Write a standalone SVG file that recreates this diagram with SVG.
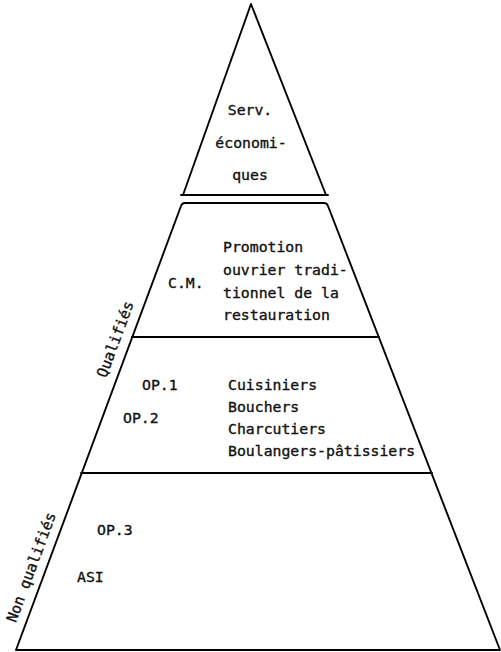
<svg xmlns="http://www.w3.org/2000/svg" width="501" height="652" viewBox="0 0 501 652">
  <style>
    .edge { fill: none; stroke: #000; stroke-width: 1.9; stroke-linejoin: round; stroke-linecap: round; }
    .lbl { font-family: "DejaVu Sans Mono", "Liberation Mono", monospace; font-size: 14.8px; fill: #111; stroke: #111; stroke-width: 0.35px; }
    .mid { text-anchor: middle; }
  </style>
  <rect width="501" height="652" fill="#fff"/>

  <!-- apex: economic services -->
  <g id="tier-services">
    <path class="edge" d="M183,195 L251,4 L326,195"/>
    <path class="edge" d="M181,195 L328,195"/>
    <text class="lbl mid" x="250" y="115">Serv.</text>
    <text class="lbl mid" x="251" y="148">économi-</text>
    <text class="lbl mid" x="250" y="180">ques</text>
  </g>

  <!-- outline of the lower pyramid -->
  <g id="pyramid-body">
    <path class="edge" d="M181,206 Q182,203 185,203 L324,203 Q327,203 328,206 L500,650 L16,650 Z"/>
  </g>

  <!-- master craftsmen tier -->
  <g id="tier-cm">
    <text class="lbl" x="168" y="288">C.M.</text>
    <text class="lbl" x="223" y="252">Promotion</text>
    <text class="lbl" x="223" y="275">ouvrier tradi-</text>
    <text class="lbl" x="223" y="298">tionnel de la</text>
    <text class="lbl" x="223" y="320">restauration</text>
  </g>

  <!-- skilled workers tier -->
  <g id="tier-op">
    <line class="edge" x1="132" y1="337" x2="379" y2="337"/>
    <text class="lbl" x="142" y="390">OP.1</text>
    <text class="lbl" x="123" y="423">OP.2</text>
    <text class="lbl" x="228" y="390">Cuisiniers</text>
    <text class="lbl" x="228" y="412">Bouchers</text>
    <text class="lbl" x="228" y="434">Charcutiers</text>
    <text class="lbl" x="228" y="456">Boulangers-pâtissiers</text>
  </g>

  <!-- unskilled tier -->
  <g id="tier-unskilled">
    <line class="edge" x1="81" y1="473" x2="432" y2="473"/>
    <text class="lbl" x="97" y="535">OP.3</text>
    <text class="lbl" x="77" y="582">ASI</text>
  </g>

  <!-- side labels running along the left edge -->
  <g id="side-labels">
    <text class="lbl mid" transform="translate(120,341) rotate(-69.6)">Qualifiés</text>
    <text class="lbl mid" transform="translate(36,569) rotate(-69.6)">Non qualifiés</text>
  </g>
</svg>
